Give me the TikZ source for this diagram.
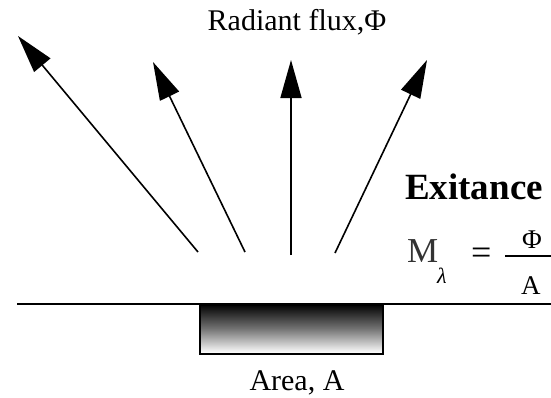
\documentclass[tikz,border=0pt]{standalone}
\usepackage{fontspec}
\setmainfont{Liberation Serif}
\usetikzlibrary{arrows.meta}
\begin{document}
\begin{tikzpicture}[x=1pt,y=-1pt,
  ray/.style={line width=1.6pt,-{Triangle[length=38pt,width=21pt]}},
  lbl/.style={inner sep=0pt,font=\fontsize{30}{34}\selectfont},
  mathtxt/.style={inner sep=0pt,anchor=base west}]
\useasboundingbox (0,0) rectangle (551,397);
% surface
\coordinate (sl) at (17,304);
\coordinate (sr) at (551,304);
\draw[line width=2pt] (sl) -- (sr);
% area
\shade[top color=black,bottom color=white,middle color=black!55] (199,304) rectangle (382,353);
\node[draw,line width=2pt,minimum width=183pt,minimum height=49pt,inner sep=0pt,anchor=north west] (area) at (199,304) {};
\node[lbl,anchor=base] (arealbl) at (297,390) {Area, A};
% rays
\coordinate (t1) at (198,252); \coordinate (h1) at (18,36);
\coordinate (t2) at (245,252); \coordinate (h2) at (153,62);
\coordinate (t3) at (291,255); \coordinate (h3) at (291,60);
\coordinate (t4) at (335,253); \coordinate (h4) at (427,60);
\draw[ray] (t1) -- (h1);
\draw[ray] (t2) -- (h2);
\draw[ray] (t3) -- (h3);
\draw[ray] (t4) -- (h4);
\node[lbl,anchor=base] (flux) at (297,30) {Radiant flux,Φ};
% exitance
\node[inner sep=0pt,anchor=base west,font=\fontsize{37}{42}\bfseries] (exit) at (405,199) {Exitance};
\node[mathtxt,font=\fontsize{35}{38}\selectfont,text=black!80] (M) at (407,262) {M};
\node[mathtxt,font=\fontsize{22}{24}\itshape] (lam) at (437,283) {λ};
\node[mathtxt,font=\fontsize{36}{40}\selectfont] (eq) at (471,264) {=};
\coordinate (barl) at (505,256);
\coordinate (barr) at (551,256);
\draw[line width=2.2pt] (barl) -- (barr);
\node[mathtxt,font=\fontsize{27}{30}\selectfont] (phi) at (522,248) {Φ};
\node[mathtxt,font=\fontsize{27}{30}\selectfont] (A) at (521,294) {A};
\end{tikzpicture}
\end{document}
